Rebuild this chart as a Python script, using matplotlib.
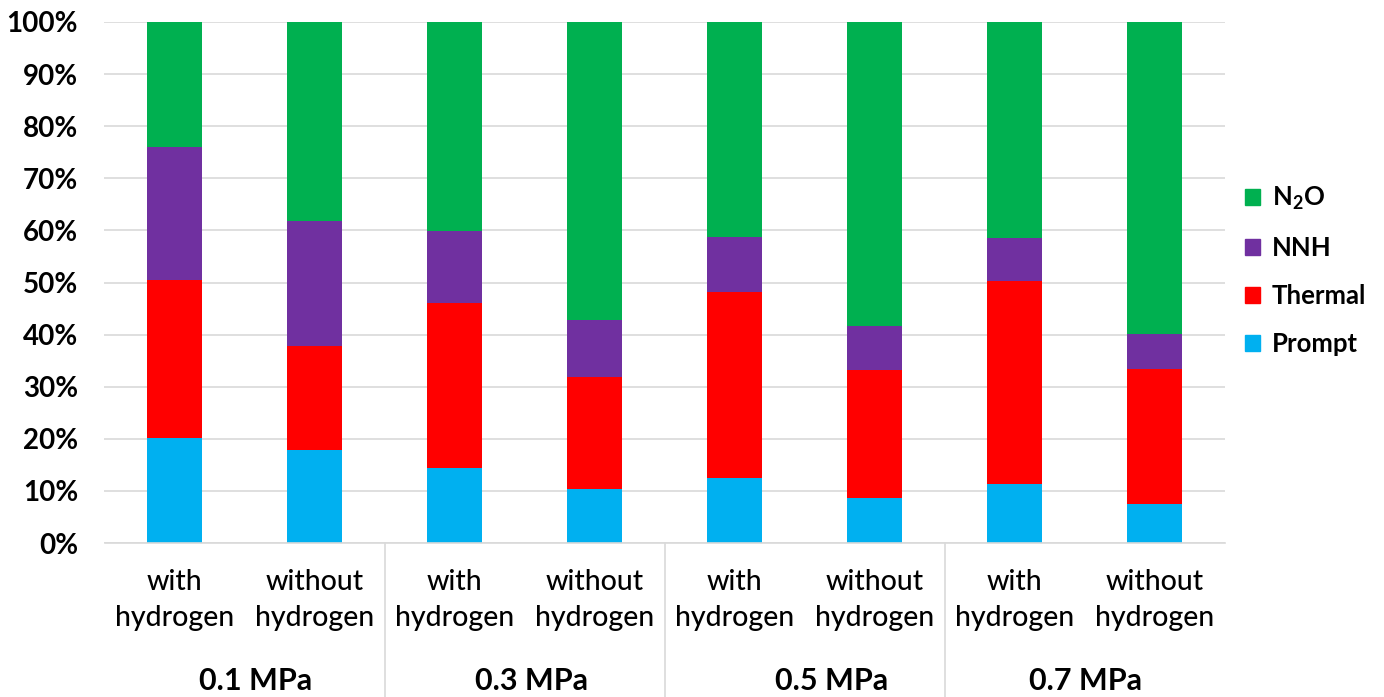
import matplotlib
matplotlib.use("Agg")
import matplotlib.pyplot as plt
import matplotlib.transforms as mtransforms
from matplotlib.patches import Patch
import numpy as np

plt.rcParams['font.family'] = ['Lato', 'DejaVu Sans']
plt.rcParams['mathtext.default'] = 'regular'

bar_labels = ["with\nhydrogen", "without\nhydrogen"] * 4
pressures = ["0.1 MPa", "0.3 MPa", "0.5 MPa", "0.7 MPa"]

# share of each NO formation route (%)
prompt = [20.2, 17.8, 14.4, 10.4, 12.5, 8.6, 11.3, 7.5]
thermal = [30.3, 20.1, 31.7, 21.5, 35.7, 24.6, 39.0, 25.9]
nnh = [25.5, 23.9, 13.8, 10.9, 10.5, 8.5, 8.2, 6.7]
n2o = [100 - p - t - n for p, t, n in zip(prompt, thermal, nnh)]

series = [("Prompt", prompt, "#00B0F0"),
          ("Thermal", thermal, "#FF0000"),
          ("NNH", nnh, "#7030A0"),
          ("N$_2$O", n2o, "#00B050")]

fig = plt.figure(figsize=(13.84, 6.97), dpi=100)
ax = fig.add_axes([104.5 / 1384, 154 / 697, 1120 / 1384, 521 / 697])

x = np.arange(len(bar_labels))
bottom = np.zeros(len(x))
for name, vals, color in series:
    ax.bar(x, vals, width=0.39, bottom=bottom, color=color, zorder=2)
    bottom += np.array(vals)

ax.set_xlim(-0.5, len(x) - 0.5)
ax.set_ylim(0, 100)
ax.set_yticks(np.arange(0, 101, 10))
ax.set_yticklabels([f"{v}%" for v in range(0, 101, 10)], fontsize=20, fontweight="bold")
ax.yaxis.grid(True, color="#D9D9D9", linewidth=1.2, zorder=0)
ax.tick_params(axis="y", length=0, pad=19)
ax.set_xticks([])
for s in ["left", "right", "top"]:
    ax.spines[s].set_visible(False)
ax.spines["bottom"].set_color("#D9D9D9")
ax.spines["bottom"].set_linewidth(1.2)

# category labels below the axis
trans = mtransforms.blended_transform_factory(ax.transData, fig.transFigure)
for xi, lab in zip(x, bar_labels):
    ax.text(xi, 1 - 600 / 697, lab, transform=trans, ha="center", va="center",
            fontsize=20.5, fontweight="medium", linespacing=1.45)
# pressure labels sit a little right of each group's centre
shift = [0.08, 0.05, 0.19, 0.01]
for i, p in enumerate(pressures):
    ax.text(2 * i + 0.5 + shift[i], 1 - 681 / 697, p, transform=trans,
            ha="center", va="center", fontsize=22, fontweight="bold")

# group separators
for b in [1.5, 3.5, 5.5]:
    ax.plot([b, b], [0, -154 / 521 * 100], color="#D9D9D9", linewidth=1.2,
            clip_on=False, zorder=1)

handles = [Patch(color=c, label=n) for n, _, c in series[::-1]]
leg = ax.legend(handles=handles, loc="center left", bbox_to_anchor=(1.018, 0.523),
                frameon=False, borderpad=0, borderaxespad=0,
                prop={"size": 18.5, "weight": "bold"},
                handlelength=0.6, handleheight=0.6, labelspacing=0.93, handletextpad=0.45)

fig.savefig("out.png", dpi=100)
